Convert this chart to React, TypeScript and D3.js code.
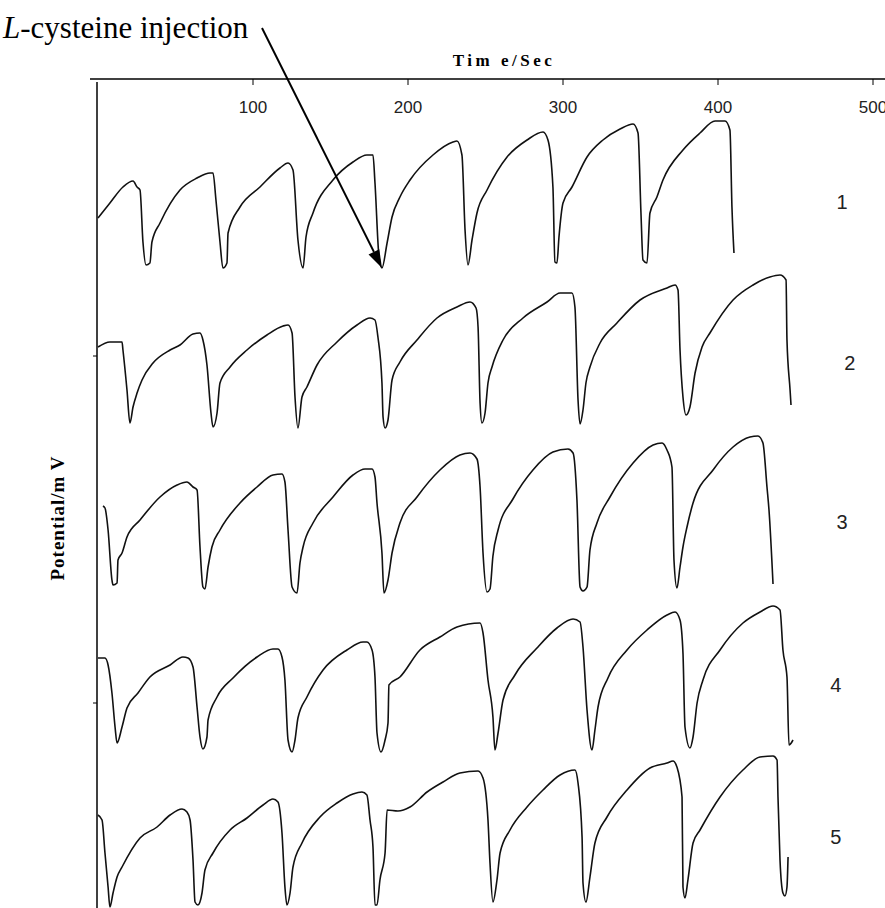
import React from "react";
import * as d3 from "d3";

// time (s) and potential (relative mV), top to bottom
const trace1: [number, number][] = [
  [0, 50], [7.7, 65], [16.1, 81], [22.6, 87], [25.2, 81], [27.1, 78], [29, 26], [31, 3], [33.5, 5], [34.8, 26],
  [40, 45], [52.9, 78], [63.9, 90], [72.3, 95], [74.2, 95], [76.1, 68], [78.7, 26], [80.6, 0], [83.2, 5], [83.9, 35],
  [91.6, 61], [104.5, 81], [117.4, 100], [122.6, 105], [125.8, 98], [129, 28], [132.3, 0], [134.2, 31], [138.7, 55],
  [151.6, 88], [164.5, 106], [173.5, 113], [177.4, 113], [178.7, 85], [181.3, 11], [183.2, 0], [186.5, 25], [189.7, 51],
  [194.8, 71], [201.3, 88], [216.1, 113], [229, 126], [231.6, 127], [234.8, 113], [236.8, 38], [238.7, 3], [241.3, 28],
  [244.5, 55], [251, 78], [263.9, 111], [276.8, 128], [287.1, 136], [290.3, 128], [293.5, 81], [294.8, 6], [296.1, 5],
  [297.4, 31], [300, 65], [305.8, 81], [315.5, 111], [325.8, 128], [336.8, 139], [345.2, 144], [348.4, 135], [350.3, 55],
  [351.6, 8], [354.2, 5], [356.1, 55], [360.6, 71], [364.5, 88], [377.4, 118], [388.4, 135], [398.1, 147], [404.5, 147],
  [407.7, 138], [409, 61], [410.3, 15],
];

const trace2: [number, number][] = [
  [0, 81], [7.7, 86], [15.5, 86], [16.1, 78], [18.7, 38], [20.6, 5], [22.6, 21], [25.2, 35], [28.4, 48], [35.5, 65],
  [46.5, 78], [52.9, 83], [61.3, 94], [65.8, 95], [67.7, 88], [70.3, 63], [72.9, 15], [74.2, 1], [76.8, 15], [78.7, 45],
  [85.2, 61], [96.1, 78], [109, 93], [119.4, 102], [122.6, 103], [125.2, 95], [127.1, 31], [129, 0], [131.6, 31],
  [134.8, 41], [141.3, 63], [154.2, 86], [167.1, 103], [175.5, 110], [178.7, 108], [180.6, 91], [183.2, 45], [183.9, 11],
  [185.2, 0], [187.1, 8], [189.7, 48], [194.8, 66], [205.8, 88], [218.7, 110], [231.6, 121], [240, 126], [243.9, 120],
  [245.2, 101], [246.5, 25], [247.7, 5], [249.7, 15], [251.6, 45], [254.2, 61], [261.3, 88], [274.2, 110], [289.7, 126],
  [298.1, 135], [305.8, 135], [307.7, 121], [309.7, 28], [311, 4], [312.9, 18], [314.8, 45], [317.4, 61], [323.9, 85],
  [334.8, 105], [349.7, 128], [367.1, 140], [372.3, 143], [374.2, 138], [375.5, 78], [377.4, 31], [379.4, 13],
  [381.9, 21], [385.2, 55], [389.7, 81], [394.8, 95], [409.7, 128], [422.6, 143], [433.5, 151], [440, 153], [443.9, 148],
  [444.5, 88], [446.5, 38], [447.1, 23],
];

const trace3: [number, number][] = [
  [3.2, 87], [4.5, 85], [6.5, 63], [9, 13], [9.7, 8], [12.3, 10], [12.9, 33], [15.5, 40], [18.7, 56], [27.1, 73],
  [40, 96], [51, 108], [57.4, 111], [61.3, 106], [63.9, 103], [65.8, 46], [67.7, 6], [69, 4], [71, 26], [73.5, 46],
  [78.7, 63], [91.6, 90], [102.6, 106], [112.9, 118], [118.7, 119], [120.6, 111], [122.6, 63], [125.2, 6], [128.4, 0],
  [130.3, 30], [132.3, 46], [138.7, 70], [151.6, 96], [164.5, 118], [172.3, 124], [176.8, 124], [178.7, 116], [180, 90],
  [183.2, 40], [184.5, 0], [187.1, 13], [189.7, 40], [194.8, 70], [205.8, 96], [220.6, 123], [233.5, 138], [240, 140],
  [244.5, 134], [246.5, 106], [248.4, 40], [251, 1], [252.9, 4], [254.8, 37], [258.1, 63], [267.7, 94], [280.6, 123],
  [293.5, 141], [303.2, 144], [306.5, 140], [309, 93], [311, 6], [312.9, 2], [315.5, 6], [317.4, 43], [321.9, 70],
  [330.3, 96], [345.2, 130], [358.1, 148], [363.9, 150], [367.1, 143], [370.3, 126], [371.6, 33], [373.5, 5],
  [375.5, 26], [377.4, 46], [380, 66], [383.9, 90], [396.8, 123], [409.7, 146], [420.6, 156], [425.8, 157], [429, 150],
  [431.6, 106], [432.9, 83], [435.5, 9],
];

const trace4: [number, number][] = [
  [0, 94], [4.5, 94], [6.5, 87], [9, 59], [11, 25], [12.3, 9], [15.5, 25], [18.7, 44], [25.8, 59], [33.5, 75],
  [46.5, 87], [54.8, 95], [58.1, 94], [61.3, 85], [63.9, 45], [65.8, 15], [67.7, 3], [70.3, 15], [71, 32], [76.8, 55],
  [87.1, 74], [102.6, 95], [112.9, 103], [116.1, 103], [118.7, 95], [120.6, 72], [122.6, 12], [125.2, 0], [127.1, 12],
  [129, 34], [134.8, 55], [145.2, 82], [160.6, 102], [171, 110], [173.5, 110], [176.8, 102], [178.7, 75], [180, 19],
  [182.6, 0], [185.2, 12], [187.1, 29], [187.7, 67], [194.8, 75], [207.7, 102], [220.6, 115], [231.6, 125],
  [246.5, 129], [248.4, 119], [251.6, 72], [254.8, 35], [256.1, 2], [258.1, 19], [261.3, 52], [269, 77], [283.2, 104],
  [296.1, 124], [306.5, 133], [311, 130], [312.9, 105], [315.5, 42], [318.7, 2], [320.6, 22], [322.6, 45], [329, 74],
  [341.3, 102], [354.2, 122], [367.1, 137], [372.3, 140], [375.5, 132], [377.4, 99], [378.7, 25], [381.9, 4],
  [383.9, 15], [386.5, 49], [390.3, 72], [401.3, 102], [416.1, 129], [427.1, 140], [435.5, 146], [440, 142],
  [441.9, 102], [444.5, 75], [445.8, 7], [448.4, 12],
];

const trace5: [number, number][] = [
  [0, 93], [2.6, 88], [4.5, 55], [6.5, 21], [7.7, 1], [9.7, 15], [12.3, 31], [15.5, 41], [27.1, 70], [38.1, 81],
  [46.5, 93], [54.2, 99], [57.4, 96], [59.4, 88], [61.3, 48], [62.6, 6], [64.5, 3], [67.1, 15], [69, 38], [74.2, 55],
  [85.2, 78], [96.1, 90], [106.5, 103], [112.9, 109], [116.1, 106], [118.7, 75], [120.6, 21], [121.9, 3], [123.9, 15],
  [125.8, 41], [131.6, 65], [143.2, 91], [154.2, 105], [164.5, 114], [170.3, 116], [173.5, 113], [175.5, 88],
  [177.4, 61], [178.7, 3], [180, 3], [181.9, 28], [185.2, 55], [186.5, 98], [193.5, 97], [201.3, 101], [212.3, 116],
  [222.6, 126], [233.5, 135], [245.2, 137], [248.4, 130], [251.6, 88], [252.9, 45], [254.8, 6], [257.4, 28],
  [259.4, 55], [265.8, 78], [276.8, 101], [287.1, 118], [298.1, 133], [307.7, 138], [309.7, 125], [312.3, 71],
  [312.9, 25], [314.8, 6], [317.4, 31], [320.6, 65], [328.4, 91], [341.3, 118], [356.1, 140], [367.1, 145], [371, 147],
  [373.5, 141], [376.8, 111], [377.4, 21], [378.7, 10], [380.6, 28], [383.9, 65], [388.4, 78], [401.3, 111],
  [416.1, 138], [427.1, 151], [435.5, 152], [438.1, 148], [438.7, 111], [440, 48], [441.9, 15], [443.2, 12],
  [444.5, 21], [445.2, 51],
];

const traces = [trace1, trace2, trace3, trace4, trace5];
const traceOffsets = [640, 480, 315, 156, 0];
const traceLabels = ["1", "2", "3", "4", "5"];
const traceLabelTimes = [480, 485, 480, 476, 476];
const traceLabelLevels = [66, 65, 71, 67, 71];

const xTicks = [100, 200, 300, 400, 500];
const yTicks = [205, 552];

const injectionTime = 183.2;
const injectionLevel = 0;

const W = 885;
const H = 908;

export default function App() {
  const x = d3.scaleLinear().domain([0, 500]).range([98, 873]);
  const y = d3.scaleLinear().domain([0, 850]).range([908, 58]);
  const axisY = 79;
  const axisX = 97;

  const line = (offset: number) =>
    d3
      .line<[number, number]>()
      .x((d) => x(d[0]))
      .y((d) => y(d[1] + offset))
      .curve(d3.curveMonotoneX);

  // arrow from the annotation to the injection point on trace 1
  const ax0 = 262;
  const ay0 = 28;
  const ax1 = x(injectionTime);
  const ay1 = y(injectionLevel + traceOffsets[0]);
  const len = Math.hypot(ax1 - ax0, ay1 - ay0);
  const ux = (ax1 - ax0) / len;
  const uy = (ay1 - ay0) / len;
  const headL = 18;
  const headW = 6;
  const bx = ax1 - ux * headL;
  const by = ay1 - uy * headL;
  const head = [
    [ax1, ay1],
    [bx - uy * headW, by + ux * headW],
    [bx + uy * headW, by - ux * headW],
  ]
    .map((p) => p.join(","))
    .join(" ");

  return (
    <svg
      width={W}
      height={H}
      style={{ position: "absolute", left: 0, top: 0, background: "#fff" }}
    >
      <rect width={W} height={H} fill="#fff" />

      {/* axes */}
      <line x1={90} x2={W} y1={axisY} y2={axisY} stroke="#000" strokeWidth={1.5} />
      <line x1={axisX} x2={axisX} y1={82} y2={H} stroke="#000" strokeWidth={1.5} />
      {xTicks.map((t) => (
        <g key={t}>
          <line x1={x(t)} x2={x(t)} y1={axisY} y2={axisY + 6} stroke="#000" strokeWidth={1} />
          <text
            x={x(t)}
            y={113}
            textAnchor="middle"
            fontFamily="Liberation Sans, Arial, sans-serif"
            fontSize={17}
            fill="#222"
          >
            {t}
          </text>
        </g>
      ))}
      {yTicks.map((v) => (
        <line key={v} x1={axisX - 4} x2={axisX} y1={y(v)} y2={y(v)} stroke="#000" strokeWidth={1} />
      ))}

      <text
        x={504}
        y={66}
        textAnchor="middle"
        fontFamily="Liberation Serif, Times New Roman, serif"
        fontWeight="bold"
        fontSize={17}
        letterSpacing={3.5}
      >
        Tim e/Sec
      </text>

      <text
        transform="translate(64,518) rotate(-90)"
        textAnchor="middle"
        fontFamily="Liberation Serif, Times New Roman, serif"
        fontWeight="bold"
        fontSize={19}
        letterSpacing={1}
      >
        Potential/m V
      </text>

      {/* traces */}
      {traces.map((tr, i) => (
        <path
          key={i}
          d={line(traceOffsets[i])(tr) || ""}
          fill="none"
          stroke="#111"
          strokeWidth={1.6}
          strokeLinejoin="round"
        />
      ))}

      {traces.map((_, i) => (
        <text
          key={i}
          x={x(traceLabelTimes[i])}
          y={y(traceLabelLevels[i] + traceOffsets[i])}
          textAnchor="middle"
          dominantBaseline="central"
          fontFamily="Liberation Sans, Arial, sans-serif"
          fontSize={20}
          fill="#222"
        >
          {traceLabels[i]}
        </text>
      ))}

      {/* annotation */}
      <text x={3} y={38} fontFamily="Liberation Serif, Times New Roman, serif" fontSize={31}>
        <tspan fontStyle="italic">L</tspan>-cysteine injection
      </text>
      <line x1={ax0} y1={ay0} x2={bx} y2={by} stroke="#000" strokeWidth={2} />
      <polygon points={head} fill="#000" />
    </svg>
  );
}
